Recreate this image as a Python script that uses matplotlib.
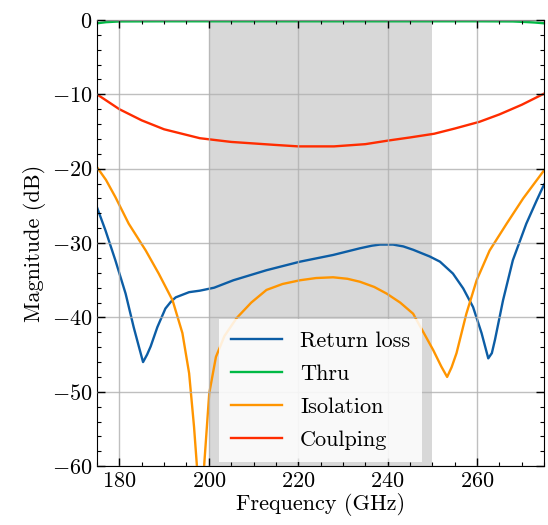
import numpy as np
import matplotlib
matplotlib.use("Agg")
import matplotlib.pyplot as plt
from matplotlib.ticker import MultipleLocator

# DATA
f_rl = [175, 176.9, 179.1, 181.4, 183.2, 184.4, 185.3, 186.2, 187.0, 188.5, 190.3, 191.5,
        192.6, 195.6, 198.0, 201.2, 205.5, 212.9, 220.4, 227.8, 233.8, 236.5, 238.3, 241.2,
        243.5, 245.7, 249.4, 251.7, 254.6, 256.9, 259.1, 261.0, 262.5, 263.3, 264.0, 265.8,
        268.0, 271.0, 273.3, 275]
rl = [-25.2, -28.3, -32.3, -36.8, -41.3, -44.0, -46.0, -45.0, -43.9, -41.3, -38.8, -37.9,
      -37.3, -36.6, -36.4, -36.0, -35.0, -33.65, -32.5, -31.6, -30.7, -30.35, -30.2, -30.2,
      -30.45, -30.9, -31.8, -32.5, -34.1, -36.1, -38.6, -42.1, -45.5, -44.8, -43.0, -37.7,
      -32.3, -27.4, -24.3, -22.1]

f_thru = [175, 177, 180, 190, 200, 220, 240, 260, 268, 271, 273, 275]
thru = [-0.45, -0.3, -0.2, -0.18, -0.18, -0.18, -0.18, -0.18, -0.2, -0.28, -0.35, -0.45]

f_iso = [175, 177, 179.1, 182.1, 185.9, 188.8, 191.9, 194.1, 195.6, 196.7, 197.3, 198.2,
         199.0, 200.1, 201.6, 203.5, 206.2, 209.5, 212.9, 216.5, 220.4, 224, 227.8, 231,
         233.8, 237, 239.8, 242.8, 245.7, 248, 250.2, 252, 253.3, 254.3, 255.4, 257.6,
         259.9, 262.8, 266.6, 270.3, 275]
iso = [-19.8, -21.5, -23.8, -27.4, -31.0, -34.1, -37.7, -42.1, -47.5, -54.7, -59.6, -68,
       -59.6, -50.2, -45.3, -42.5, -40.1, -38.0, -36.3, -35.5, -35.0, -34.7, -34.6, -34.8,
       -35.2, -35.9, -36.8, -38.0, -39.5, -42.0, -44.4, -46.6, -48.0, -46.7, -44.8, -39.5,
       -35.0, -31.0, -27.4, -24.0, -20.2]

f_cpl = [175, 180, 185, 190, 198, 205, 214.8, 220, 228, 235, 240.3, 245, 250.4, 255, 260.5,
         265, 270, 275]
cpl = [-10.0, -12.0, -13.5, -14.7, -15.9, -16.4, -16.8, -17.0, -17.0, -16.7, -16.2, -15.8,
       -15.3, -14.6, -13.7, -12.7, -11.4, -9.9]

band = (200, 250)

plt.rcParams['font.family'] = 'serif'
plt.rcParams['font.serif'] = ['cmr10']
plt.rcParams['mathtext.fontset'] = 'cm'
plt.rcParams['axes.formatter.use_mathtext'] = True
plt.rcParams['font.size'] = 16

fig = plt.figure(figsize=(5.48, 5.25), dpi=100)
ax = fig.add_axes([0.177, 0.112, 0.816, 0.85])

ax.axvspan(band[0], band[1], color='gray', alpha=0.3, lw=0, zorder=0)
ax.plot(f_rl, rl, color='#0C5DA5', lw=1.7, label='Return loss')
ax.plot(f_thru, thru, color='#00B945', lw=1.7, label='Thru')
ax.plot(f_iso, iso, color='#FF9500', lw=1.7, label='Isolation')
ax.plot(f_cpl, cpl, color='#FF2C00', lw=1.7, label='Coulping')

ax.set_xlim(175, 275)
ax.set_ylim(-60, 0)
ax.xaxis.set_major_locator(MultipleLocator(20))
ax.xaxis.set_minor_locator(MultipleLocator(5))
ax.yaxis.set_major_locator(MultipleLocator(10))
ax.yaxis.set_minor_locator(MultipleLocator(2))
ax.tick_params(which='both', direction='in', top=True, right=True)
ax.tick_params(which='major', length=6, width=1)
ax.tick_params(which='minor', length=3, width=0.8)
ax.grid(True, color='#b0b0b0', lw=1, alpha=0.8)
ax.set_axisbelow(False)

ax.set_xlabel('Frequency (GHz)', labelpad=2)
ax.set_ylabel('Magnitude (dB)')
leg = ax.legend(loc='lower center', framealpha=0.85, edgecolor='none', fancybox=False,
                handlelength=2.3, borderaxespad=0.2, labelspacing=0.6, borderpad=0.55)

fig.savefig('out.png', dpi=100)
